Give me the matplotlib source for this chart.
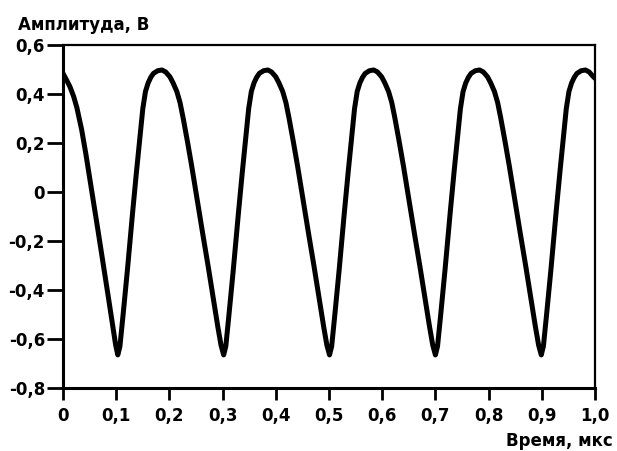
import matplotlib
matplotlib.use("Agg")
import matplotlib.pyplot as plt

plt.rcParams['font.family'] = ['DejaVu Sans']

# values (time in µs, amplitude in V)
time_us = [
    0.000, 0.006, 0.013, 0.020, 0.026, 0.035, 0.043, 0.050, 0.058, 0.066, 0.076, 0.086,
    0.094, 0.099,
    0.103, 0.107, 0.113, 0.121, 0.131, 0.138, 0.144, 0.150, 0.155, 0.160, 0.165, 0.170,
    0.178, 0.186, 0.193, 0.201, 0.207, 0.214, 0.220, 0.226, 0.234, 0.242, 0.248, 0.254,
    0.263, 0.273, 0.283, 0.291, 0.297,
    0.302, 0.306, 0.312, 0.320, 0.330, 0.337, 0.343, 0.349, 0.354, 0.359, 0.364, 0.369,
    0.377, 0.385, 0.392, 0.400, 0.406, 0.413, 0.419, 0.425, 0.433, 0.441, 0.447, 0.453,
    0.462, 0.472, 0.482, 0.490, 0.496,
    0.501, 0.505, 0.511, 0.519, 0.529, 0.536, 0.542, 0.548, 0.553, 0.558, 0.563, 0.568,
    0.576, 0.584, 0.591, 0.599, 0.605, 0.612, 0.618, 0.624, 0.632, 0.640, 0.646, 0.652,
    0.661, 0.671, 0.681, 0.689, 0.695,
    0.700, 0.704, 0.710, 0.718, 0.728, 0.735, 0.741, 0.747, 0.752, 0.757, 0.762, 0.767,
    0.775, 0.783, 0.790, 0.798, 0.804, 0.811, 0.817, 0.823, 0.831, 0.839, 0.845, 0.851,
    0.860, 0.870, 0.880, 0.888, 0.894,
    0.899, 0.903, 0.909, 0.917, 0.927, 0.934, 0.940, 0.946, 0.951, 0.956, 0.961, 0.966,
    0.974, 0.982, 0.989, 0.995, 1.000,
]
amplitude_v = [
    0.484, 0.46, 0.43, 0.39, 0.345, 0.255, 0.155, 0.06, -0.05, -0.16, -0.30, -0.44,
    -0.555, -0.625,
    -0.665, -0.63, -0.50, -0.32, -0.08, 0.08, 0.21, 0.34, 0.41, 0.445, 0.468, 0.484,
    0.495, 0.498, 0.49, 0.47, 0.445, 0.41, 0.365, 0.30, 0.205, 0.105, 0.025, -0.055,
    -0.175, -0.305, -0.44, -0.55, -0.625,
    -0.665, -0.63, -0.50, -0.32, -0.08, 0.08, 0.21, 0.34, 0.41, 0.445, 0.468, 0.484,
    0.495, 0.498, 0.49, 0.47, 0.445, 0.41, 0.365, 0.30, 0.205, 0.105, 0.025, -0.055,
    -0.175, -0.305, -0.44, -0.55, -0.625,
    -0.665, -0.63, -0.50, -0.32, -0.08, 0.08, 0.21, 0.34, 0.41, 0.445, 0.468, 0.484,
    0.495, 0.498, 0.49, 0.47, 0.445, 0.41, 0.365, 0.30, 0.205, 0.105, 0.025, -0.055,
    -0.175, -0.305, -0.44, -0.55, -0.625,
    -0.665, -0.63, -0.50, -0.32, -0.08, 0.08, 0.21, 0.34, 0.41, 0.445, 0.468, 0.484,
    0.495, 0.498, 0.49, 0.47, 0.445, 0.41, 0.365, 0.30, 0.205, 0.105, 0.025, -0.055,
    -0.175, -0.305, -0.44, -0.55, -0.625,
    -0.665, -0.63, -0.50, -0.32, -0.08, 0.08, 0.21, 0.34, 0.41, 0.445, 0.468, 0.484,
    0.495, 0.498, 0.49, 0.475, 0.464,
]

x_ticks = [0, 0.1, 0.2, 0.3, 0.4, 0.5, 0.6, 0.7, 0.8, 0.9, 1.0]
x_labels = ['0', '0,1', '0,2', '0,3', '0,4', '0,5', '0,6', '0,7', '0,8', '0,9', '1,0']
y_ticks = [0.6, 0.4, 0.2, 0, -0.2, -0.4, -0.6, -0.8]
y_labels = ['0,6', '0,4', '0,2', '0', '-0,2', '-0,4', '-0,6', '-0,8']

fig = plt.figure(figsize=(6.17, 4.51), dpi=100)
ax = fig.add_axes([63 / 617, 1 - 388 / 451, (595 - 63) / 617, (388 - 45) / 451])

ax.plot(time_us, amplitude_v, color='black', lw=3.6,
        solid_joinstyle='round', solid_capstyle='round')

ax.set_xlim(0, 1.0)
ax.set_ylim(-0.8, 0.6)
ax.set_xticks(x_ticks)
ax.set_xticklabels(x_labels, fontsize=12, fontweight='bold')
ax.set_yticks(y_ticks)
ax.set_yticklabels(y_labels, fontsize=12, fontweight='bold')
ax.tick_params(axis='y', length=11.5, width=2, pad=1.5)
ax.tick_params(axis='x', length=8.5, width=2, pad=5)

for side in ['left', 'bottom']:
    ax.spines[side].set_linewidth(2.2)
for side in ['top', 'right']:
    ax.spines[side].set_linewidth(1.6)

fig.text(18 / 617, 1 - 25 / 451, 'Амплитуда, В', fontsize=12, fontweight='bold',
         ha='left', va='center')
fig.text(613 / 617, 1 - 441 / 451, 'Время, мкс', fontsize=12, fontweight='bold',
         ha='right', va='center')

fig.savefig('out.png', dpi=100)
